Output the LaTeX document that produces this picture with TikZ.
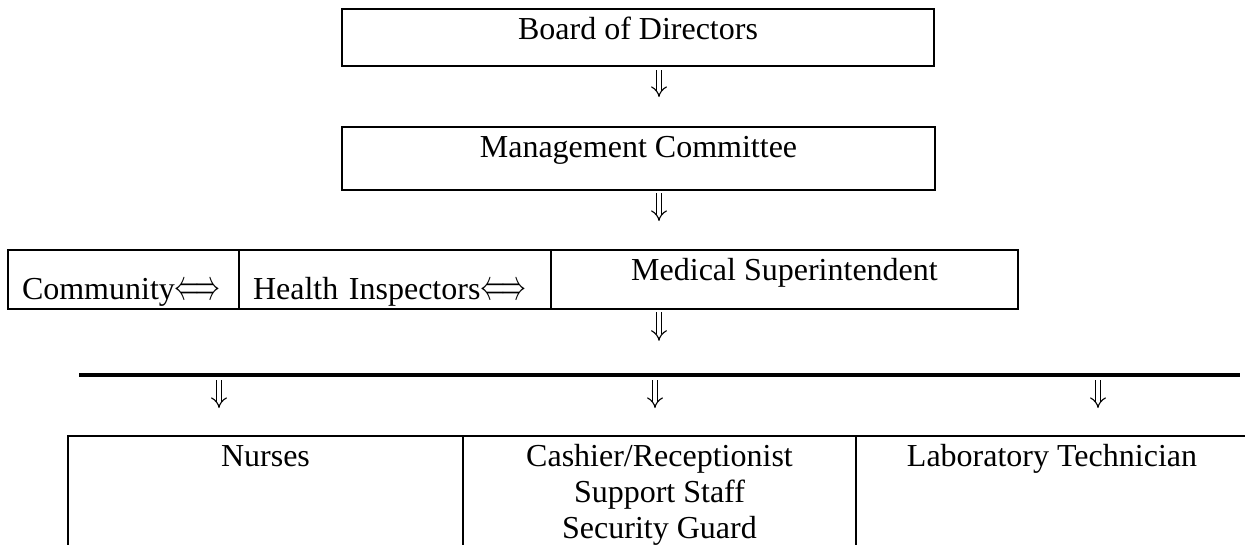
\documentclass[tikz,border=0pt]{standalone}
\usepackage{fontspec}
\setmainfont{Liberation Serif}
\usetikzlibrary{positioning,arrows.meta}

\tikzset{
  box/.style={draw, line width=2pt, rectangle, inner sep=0pt, outer sep=0pt, anchor=north west},
  down/.style={double, double distance=4.5pt, line width=1.1pt, -{Implies[length=7pt,width=16pt]}},
}
\newcommand{\both}{\scalebox{1}[1.7]{$\Longleftrightarrow$}}

\begin{document}
\begin{tikzpicture}[x=1pt,y=-1pt,font=\fontsize{32}{36}\selectfont]
\useasboundingbox (0,0) rectangle (1245,544);
\clip (0,0) rectangle (1245,544);
\coordinate (mid) at (659,0);

% top of the chart
\node (board) [box, minimum width=592pt, minimum height=57pt, text height=30pt, text depth=27pt] at (342,9) {Board of Directors};
\node (mgmt) [box, minimum width=593pt, minimum height=63pt, text height=30pt, text depth=33pt] at (342,127) {Management Committee};

% middle row
\node (comm) [box, minimum width=231pt, minimum height=59pt, text width=203pt, align=left, text height=49pt, text depth=10pt] at (8,250) {Community\both};
\node (hinsp) [box, right=0pt of comm, minimum width=312pt, minimum height=59pt, text width=284pt, align=left, text height=49pt, text depth=10pt] {Health Inspectors\both};
\node (medsup) [box, right=0pt of hinsp, minimum width=467pt, minimum height=59pt, text height=30pt, text depth=29pt] {Medical Superintendent};

\node (bar) [fill, inner sep=0pt, minimum width=1161pt, minimum height=4pt] at (659.5,375) {};

% staff row
\node (nurses) [box, minimum width=395pt, minimum height=130pt, text height=30pt, text depth=100pt] at (68,436) {Nurses};
\node (cashier) [box, right=0pt of nurses, minimum width=393pt, minimum height=130pt, text height=30pt, text depth=100pt] {\begin{tabular}[t]{@{}c@{}}Cashier/Receptionist\\Support Staff\\Security Guard\end{tabular}};
\node (labtech) [box, right=0pt of cashier, minimum width=392pt, minimum height=130pt, text height=30pt, text depth=100pt] {Laboratory Technician};

\draw[down, shorten <=4pt, shorten >=30pt] (board.south -| mid) -- (mgmt.north -| mid);
\draw[down, shorten <=3pt, shorten >=29pt] (mgmt.south -| mid) -- (medsup.north -| mid);
\draw[down, shorten <=3pt, shorten >=32pt] (medsup.south -| mid) -- (bar.north -| mid);
\foreach \x/\n in {219/nurses, 655/cashier, 1098/labtech} {
  \coordinate (x\n) at (\x,0);
  \draw[down, shorten <=3pt, shorten >=28pt] (bar.south -| x\n) -- (\n.north -| x\n);
}
\end{tikzpicture}
\end{document}
